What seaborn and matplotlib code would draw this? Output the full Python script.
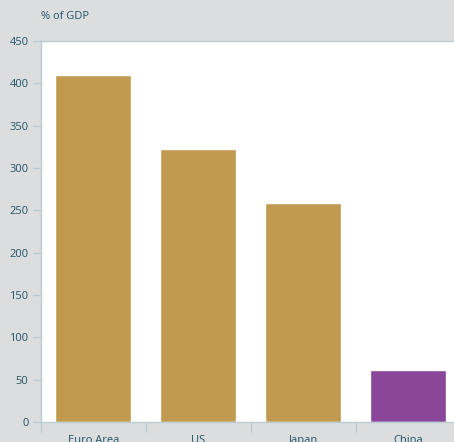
import matplotlib
matplotlib.use("Agg")
import matplotlib.pyplot as plt
import seaborn as sns
import pandas as pd
from matplotlib.ticker import FixedLocator

regions = ["Euro Area", "US", "Japan", "China"]
debt_pct_gdp = [410, 322, 259, 61]
bar_colors = ["#c19a50", "#c19a50", "#c19a50", "#8a4698"]
y_ticks = [0, 50, 100, 150, 200, 250, 300, 350, 400, 450]

text_color = "#235566"
line_color = "#b7cdd3"
bg_color = "#dcdddf"

sns.set_style("white")
plt.rcParams["font.family"] = ["Open Sans", "DejaVu Sans"]

df = pd.DataFrame({"region": regions, "value": debt_pct_gdp})

fig = plt.figure(figsize=(4.54, 4.42), dpi=100, facecolor=bg_color)
ax = fig.add_axes([0.0903, 0.0452, 0.924, 0.862])
ax.set_facecolor("white")

sns.barplot(data=df, x="region", y="value", hue="region",
            palette=dict(zip(regions, bar_colors)), width=0.724,
            legend=False, ax=ax, saturation=1)

ax.set_xlim(-0.5, 3.5)
ax.set_ylim(0, 450)
ax.set_yticks(y_ticks)
ax.set_xlabel("")
ax.set_ylabel("")

for side in ["left", "bottom", "top", "right"]:
    ax.spines[side].set_color(line_color)
    ax.spines[side].set_linewidth(1.0)

ax.tick_params(axis="y", length=6, width=1, color=line_color,
               labelcolor=text_color, labelsize=8, pad=3, left=True)
ax.tick_params(axis="x", which="major", length=0, labelcolor=text_color,
               labelsize=8, pad=9.5)
ax.xaxis.set_minor_locator(FixedLocator([-0.5, 0.5, 1.5, 2.5, 3.5]))
ax.tick_params(axis="x", which="minor", length=7, width=1, color=line_color,
               bottom=True)

fig.text(0.0903, 0.962, "% of GDP", color=text_color, fontsize=8,
         ha="left", va="center")

fig.savefig("out.png", dpi=100, facecolor=bg_color)
